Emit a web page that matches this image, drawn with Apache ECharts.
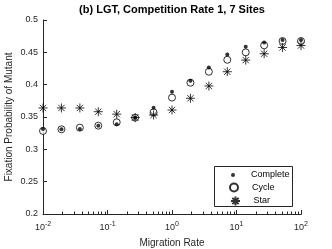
<!DOCTYPE html>
<html>
<head>
<meta charset="utf-8">
<script src="https://cdn.jsdelivr.net/npm/echarts@6/dist/echarts.min.js"></script>
<style>html,body{margin:0;padding:0;background:#fff}#c{width:332px;height:249px}</style>
</head>
<body>
<div id="c"></div>
<script>
var migrationRates = [0.01, 0.01931, 0.03728, 0.07197, 0.1389, 0.2683, 0.5179, 1, 1.931, 3.728, 7.197, 13.89, 26.83, 51.79, 100];
var completeVals = [0.3315, 0.331, 0.3315, 0.3366, 0.3387, 0.349, 0.3644, 0.389, 0.406, 0.4265, 0.4465, 0.4587, 0.4652, 0.469, 0.469];
var cycleVals    = [0.3284, 0.331, 0.3335, 0.3366, 0.3418, 0.349, 0.3572, 0.380, 0.403, 0.420, 0.4385, 0.4500, 0.4608, 0.4675, 0.4675];
var starVals     = [0.3640, 0.3640, 0.3640, 0.3582, 0.3544, 0.3492, 0.3531, 0.3608, 0.3789, 0.398, 0.420, 0.438, 0.4478, 0.4575, 0.4605];
var seriesNames = ['Complete', 'Cycle', 'Star'];
var titleText = '(b) LGT, Competition Rate 1, 7 Sites';
var xName = 'Migration Rate';
var yName = 'Fixation Probability of Mutant';
var xRange = [0.01, 100];
var yRange = [0.2, 0.5];

var minorTicks = [];
[-2, -1, 0, 1].forEach(function (e) {
  for (var k = 2; k <= 9; k++) minorTicks.push([k * Math.pow(10, e)]);
});

function pairs(vals) { return migrationRates.map(function (x, i) { return [x, vals[i]]; }); }

var starPath = 'path://M5,0L5,10M0,5L10,5M1.5,1.5L8.5,8.5M1.5,8.5L8.5,1.5';
var font = 'Liberation Sans, Arial, Helvetica, sans-serif';
var axisCol = '#262626';

var chart = echarts.init(document.getElementById('c'));
chart.setOption({
  animation: false,
  textStyle: { fontFamily: font },
  title: {
    text: titleText, left: 172, top: 4, textAlign: 'center', padding: 0,
    textStyle: { fontSize: 11, fontWeight: 'bold', color: '#000', fontFamily: font }
  },
  grid: { left: 43, right: 31, top: 20, bottom: 35, containLabel: false, outerBoundsMode: 'none' },
  xAxis: {
    type: 'log', logBase: 10, min: xRange[0], max: xRange[1],
    name: xName, nameLocation: 'middle', nameGap: 24, nameMoveOverlap: false,
    nameTextStyle: { fontSize: 10, color: axisCol },
    axisLine: { show: true, onZero: false, lineStyle: { color: axisCol, width: 1 } },
    axisTick: { inside: true, length: 4, lineStyle: { color: axisCol } },
    splitLine: { show: false },
    minorTick: { show: false },
    axisLabel: {
      margin: 7, color: axisCol, fontSize: 9,
      formatter: function (v) {
        var e = Math.round(Math.log(v) / Math.LN10);
        return '10{s|' + e + '}';
      },
      rich: { s: { fontSize: 7, verticalAlign: 'top', padding: [0, 0, 7, 0], color: axisCol } }
    }
  },
  yAxis: {
    type: 'value', min: yRange[0], max: yRange[1], interval: 0.05,
    name: yName, nameLocation: 'middle', nameGap: 29, nameMoveOverlap: false,
    nameTextStyle: { fontSize: 10, color: axisCol },
    axisLine: { show: true, onZero: false, lineStyle: { color: axisCol, width: 1 } },
    axisTick: { show: true, inside: true, length: 4, lineStyle: { color: axisCol } },
    splitLine: { show: false },
    axisLabel: {
      margin: 5, color: axisCol, fontSize: 9,
      formatter: function (v) { return String(Math.round(v * 100) / 100); }
    }
  },
  legend: [
    { data: [{ name: 'Complete', icon: 'circle' }], orient: 'vertical', left: 231, top: 170.5, padding: 0, itemWidth: 4, itemHeight: 4,
      textStyle: { fontSize: 9, color: '#000', padding: [0, 0, 0, 11] }, selectedMode: false, z: 10 },
    { data: [{ name: 'Cycle', icon: 'circle' }], orient: 'vertical', left: 229, top: 182.5, padding: 0, itemWidth: 8, itemHeight: 8,
      textStyle: { fontSize: 9, color: '#000', padding: [0, 0, 0, 9] }, selectedMode: false, z: 10 },
    { data: [{ name: 'Star', icon: starPath }], orient: 'vertical', left: 228.5, top: 194, padding: 0, itemWidth: 9, itemHeight: 9,
      textStyle: { fontSize: 9, color: '#000', padding: [0, 0, 0, 8.5] }, selectedMode: false, z: 10 }
  ],
  graphic: [{
    type: 'rect', shape: { x: 214.5, y: 166.5, width: 78, height: 40 },
    style: { fill: '#fff', stroke: axisCol, lineWidth: 1 }, z: 1
  }],
  series: [
    {
      name: 'axisFrame', type: 'custom', silent: true, data: [[0]], z: 2, clip: false,
      renderItem: function (params, api) {
        var o = api.coord([xRange[0], yRange[0]]);
        var xr = api.coord([xRange[1], yRange[0]]);
        var yt = api.coord([xRange[0], yRange[1]]);
        return { type: 'group', children: [
          { type: 'line', shape: { x1: Math.round(o[0]) + 0.5, y1: Math.round(o[1]) + 0.5, x2: Math.round(xr[0]) + 0.5, y2: Math.round(xr[1]) + 0.5 }, style: { stroke: axisCol, lineWidth: 1 } },
          { type: 'line', shape: { x1: Math.round(o[0]) + 0.5, y1: Math.round(o[1]) + 0.5, x2: Math.round(yt[0]) + 0.5, y2: Math.round(yt[1]) + 0.5 }, style: { stroke: axisCol, lineWidth: 1 } }
        ] };
      }
    },
    {
      name: 'minorTicks', type: 'custom', silent: true, data: minorTicks, z: 2,
      renderItem: function (params, api) {
        var p = api.coord([api.value(0), yRange[0]]);
        var x = Math.round(p[0]) + 0.5;
        return { type: 'line', shape: { x1: x, y1: p[1], x2: x, y2: p[1] - 2.5 },
          style: { stroke: axisCol, lineWidth: 1 } };
      }
    },
    {
      name: seriesNames[1], type: 'scatter', data: pairs(cycleVals), symbol: 'circle', symbolSize: 7, z: 3,
      itemStyle: { color: '#fff', borderColor: '#000', borderWidth: 1 }
    },
    {
      name: seriesNames[0], type: 'scatter', data: pairs(completeVals), symbol: 'circle', symbolSize: 4, z: 4,
      itemStyle: { color: '#000' }
    },
    {
      name: seriesNames[2], type: 'scatter', data: pairs(starVals), symbol: starPath, symbolSize: 9, z: 5,
      itemStyle: { color: 'none', borderColor: '#000', borderWidth: 1 }
    }
  ]
});
</script>
</body>
</html>
